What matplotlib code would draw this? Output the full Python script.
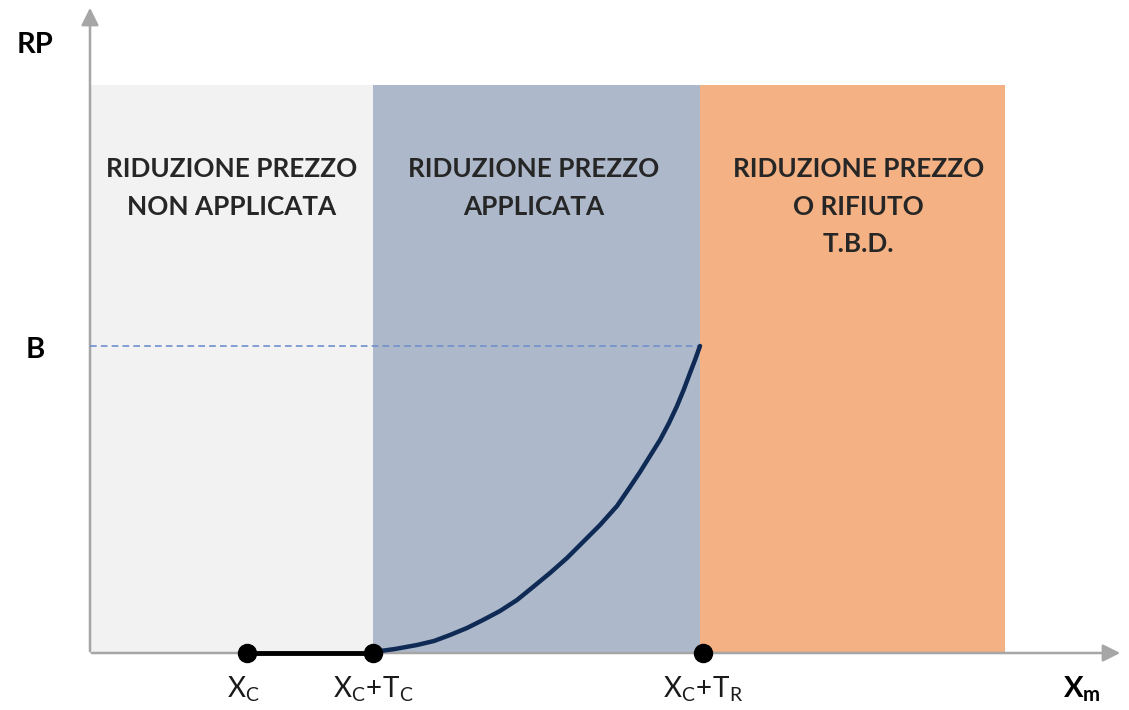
import numpy as np
import matplotlib.pyplot as plt
from matplotlib.patches import Rectangle, FancyArrowPatch

plt.rcParams["font.family"] = ["Lato", "DejaVu Sans"]
plt.rcParams["mathtext.fontset"] = "custom"
plt.rcParams["mathtext.rm"] = "Lato"
plt.rcParams["mathtext.it"] = "Lato:italic"
plt.rcParams["mathtext.bf"] = "Lato:bold"

# schematic units: origin at the axes corner, y up
x_points = [157, 283, 613]          # Xc, Xc+Tc, Xc+Tr
x_labels = [r"$\mathrm{X_C}$", r"$\mathrm{X_C\!+\!T_C}$", r"$\mathrm{X_C\!+\!T_R}$"]
region_edges = [0, 283, 610, 915]
region_top = 568
region_colors = ["#f2f2f2", "#adb9ca", "#f4b183"]
region_texts = ["RIDUZIONE PREZZO\nNON APPLICATA",
                "RIDUZIONE PREZZO\nAPPLICATA",
                "RIDUZIONE PREZZO\nO RIFIUTO\nT.B.D."]
level_b = 307
curve_x = [283, 305, 327, 344, 360, 377, 393, 410, 427, 443, 460, 477, 493,
           510, 527, 540, 550, 560, 570, 579, 587, 594, 600, 605, 610]
curve_y = [1, 4, 8, 12, 18, 25, 33, 42, 53, 66, 80, 95, 111,
           128, 147, 166, 181, 197, 213, 230, 247, 264, 280, 293, 307]

fig = plt.figure(figsize=(11.29, 7.10), dpi=100)
ax = fig.add_axes([0, 0, 1, 1])
ax.set_xlim(-90, 1039)
ax.set_ylim(-57, 653)
ax.axis("off")

for i, c in enumerate(region_colors):
    ax.add_patch(Rectangle((region_edges[i], 0), region_edges[i + 1] - region_edges[i],
                           region_top, color=c, lw=0, zorder=1))
    xm = (region_edges[i] + region_edges[i + 1]) / 2
    ax.text(xm + (6 if i == 2 else 0) - (3 if i == 1 else 0), region_top - 72, region_texts[i],
            ha="center", va="top", fontsize=18.8, fontweight="bold", color="#262626",
            linespacing=1.68, zorder=3)

# axes with arrows
ax.add_patch(FancyArrowPatch((0, -1), (0, 648), arrowstyle="-|>,head_length=7,head_width=3.5",
                             color="#a6a6a6", lw=1.8, mutation_scale=1.5, zorder=2))
ax.add_patch(FancyArrowPatch((-1, 0), (1033, 0), arrowstyle="-|>,head_length=7,head_width=3.5",
                             color="#a6a6a6", lw=1.8, mutation_scale=1.5, zorder=2))

ax.plot([0, region_edges[2]], [level_b, level_b], ls=(0, (4, 2.5)), color="#6f8fce", lw=1.2, zorder=3)
ax.plot(curve_x, curve_y, color="#0e2a55", lw=3.2, solid_capstyle="round",
        solid_joinstyle="round", zorder=4)
ax.plot(x_points[:2], [0, 0], color="black", lw=3.5, zorder=5)
ax.plot(x_points, [0, 0, 0], "o", color="black", ms=13, zorder=6)

for x, lab in zip(x_points, x_labels):
    ax.text(x - (4 if x == x_points[0] else 0), -22, lab, ha="center", va="top", fontsize=20, color="#1a1a1a")

ax.text(-55, 608, "RP", ha="center", va="center", fontsize=21, fontweight="bold")
ax.text(-55, 303, "B", ha="center", va="center", fontsize=21, fontweight="bold")
ax.text(992, -36, r"$\mathbf{X_m}$", ha="center", va="center", fontsize=21)

fig.savefig("out.png", dpi=100)
